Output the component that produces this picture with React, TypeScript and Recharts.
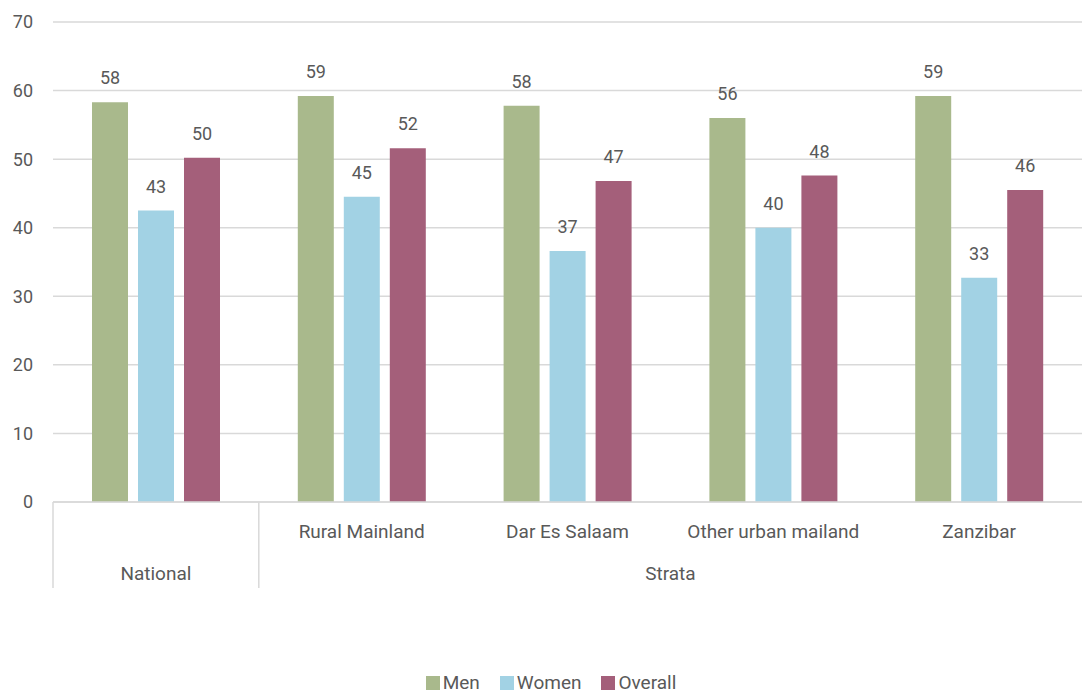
import { BarChart, Bar, XAxis, YAxis, CartesianGrid, Legend, LabelList } from 'recharts'

const CATEGORIES = ['National', 'Rural Mainland', 'Dar Es Salaam', 'Other urban mailand', 'Zanzibar']
const SUB_LABELS = ['', 'Rural Mainland', 'Dar Es Salaam', 'Other urban mailand', 'Zanzibar']
const GROUPS = [
  { label: 'National', start: 0, end: 0 },
  { label: 'Strata', start: 1, end: 4 },
]
const MEN = [58.3, 59.2, 57.8, 56.0, 59.2]
const WOMEN = [42.5, 44.5, 36.6, 40.0, 32.7]
const OVERALL = [50.2, 51.6, 46.8, 47.6, 45.5]
const Y_TICKS = [0, 10, 20, 30, 40, 50, 60, 70]

const COLORS = {
  Men: '#a9b98c',
  Women: '#a2d2e4',
  Overall: '#a45f7a',
}
const TEXT = '#595959'
const GRID = '#d9d9d9'
const FONT = 'Roboto, sans-serif'

const W = 1082
const H = 693
const Y_AXIS_W = 53
const BAND = (W - Y_AXIS_W) / CATEGORIES.length

const data = CATEGORIES.map((c, i) => ({
  name: c,
  Men: MEN[i],
  Women: WOMEN[i],
  Overall: OVERALL[i],
}))

// two-level category axis: sub label on top, group label below, separators at group starts
function CategoryTick(props: any) {
  const { x, y, index } = props
  const left = x - BAND / 2
  const group = GROUPS.find((g) => g.start === index)
  return (
    <g>
      {SUB_LABELS[index] ? (
        <text x={x} y={y + 29} textAnchor="middle" dominantBaseline="central" fill={TEXT} fontSize={19} fontFamily={FONT}>
          {SUB_LABELS[index]}
        </text>
      ) : null}
      {group ? (
        <>
          <line x1={left} x2={left} y1={y} y2={y + 86} stroke={GRID} strokeWidth={1.5} />
          <text
            x={left + ((group.end - group.start + 1) * BAND) / 2}
            y={y + 71}
            textAnchor="middle"
            dominantBaseline="central"
            fill={TEXT}
            fontSize={19}
            fontFamily={FONT}
          >
            {group.label}
          </text>
        </>
      ) : null}
    </g>
  )
}

function LegendContent() {
  const items = ['Men', 'Women', 'Overall'] as const
  return (
    <div
      style={{
        height: 105,
        display: 'flex',
        justifyContent: 'center',
        alignItems: 'flex-end',
        paddingLeft: 20,
        paddingBottom: 0,
        boxSizing: 'border-box',
        fontFamily: FONT,
        fontSize: 19,
        color: TEXT,
      }}
    >
      {items.map((k) => (
        <div key={k} style={{ display: 'flex', alignItems: 'center', margin: '0 10px', lineHeight: '20px' }}>
          <span style={{ width: 14, height: 14, background: COLORS[k], display: 'inline-block', marginRight: 3 }} />
          {k}
        </div>
      ))}
    </div>
  )
}

const roundLabel = (v: any) => Math.round(Number(v))

export default function App() {
  return (
    <div style={{ position: 'absolute', left: 0, top: 0, background: '#fff' }}>
      <BarChart width={W} height={H} data={data} margin={{ top: 22, right: 0, left: 0, bottom: 0 }} barSize={36} barGap={10}>
        <CartesianGrid vertical={false} stroke={GRID} strokeWidth={1.5} />
        <XAxis
          dataKey="name"
          interval={0}
          height={86}
          tickLine={false}
          tickSize={0}
          tickMargin={0}
          axisLine={{ stroke: GRID, strokeWidth: 1.5 }}
          tick={<CategoryTick />}
        />
        <YAxis
          width={Y_AXIS_W}
          domain={[0, 70]}
          ticks={Y_TICKS}
          axisLine={false}
          tickLine={false}
          tickSize={0}
          tickMargin={20}
          tick={{ fill: TEXT, fontSize: 18, fontFamily: FONT }}
        />
        <Legend verticalAlign="bottom" content={<LegendContent />} />
        {(['Men', 'Women', 'Overall'] as const).map((k) => (
          <Bar key={k} dataKey={k} fill={COLORS[k]} isAnimationActive={false}>
            <LabelList dataKey={k} position="top" offset={18} formatter={roundLabel} fill={TEXT} fontSize={18} fontFamily={FONT} />
          </Bar>
        ))}
      </BarChart>
    </div>
  )
}
